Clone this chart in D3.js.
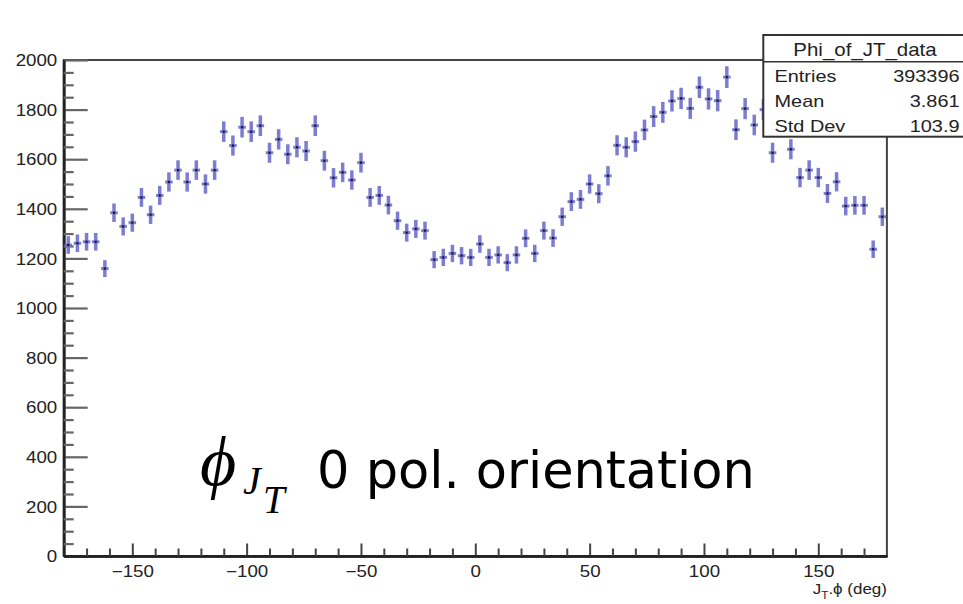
<!DOCTYPE html>
<html>
<head>
<meta charset="utf-8">
<script src="https://cdn.jsdelivr.net/npm/d3@7"></script>
<style>
  html,body{margin:0;padding:0;background:#fff;}
  svg{display:block;}
</style>
</head>
<body>
<svg id="chart" width="963" height="604"></svg>
<script>
// ---- data ----
const binLow = -180, binHigh = 180, binWidth = 4;
const counts = [
  1254, 1261, 1267, 1267, 1159, 1384, 1329, 1344, 1446, 1376,
  1454, 1508, 1556, 1508, 1556, 1500, 1556, 1711, 1655, 1729,
  1711, 1735, 1626, 1680, 1620, 1648, 1633, 1735, 1594, 1525,
  1547, 1516, 1586, 1446, 1454, 1415, 1352, 1304, 1319, 1312,
  1195, 1204, 1220, 1211, 1204, 1258, 1204, 1214, 1183, 1214,
  1281, 1220, 1312, 1282, 1368, 1429, 1438, 1500, 1461, 1533,
  1656, 1648, 1671, 1718, 1772, 1789, 1835, 1845, 1805, 1890,
  1843, 1836, 1931, 1719, 1804, 1738, 1800, 1626, 1730, 1640,
  1526, 1556, 1526, 1462, 1509, 1411, 1414, 1414, 1237, 1368
];
const yMajorTicks = [0, 200, 400, 600, 800, 1000, 1200, 1400, 1600, 1800, 2000];
const xMajorTicks = [-150, -100, -50, 0, 50, 100, 150];
const statsTitle = "Phi_of_JT_data";
const statsLabels = ["Entries", "Mean", "Std Dev"];
const statsValues = ["393396", "3.861", "103.9"];

// ---- layout ----
const svg = d3.select("#chart");
const L = 63.7, R = 886.9, T = 60, B = 556;
const SX = 1.17; // horizontal stretch of the original text
const x = d3.scaleLinear().domain([binLow, binHigh]).range([L, R]);
const y = d3.scaleLinear().domain([0, 2000]).range([B, T]);

const yMinor = d3.range(0, 2001, 50).filter(v => v % 200 !== 0);
const xMinor = d3.range(-170, 180, 10).filter(v => v % 50 !== 0);

// frame
svg.append("rect").attr("x", L).attr("y", T).attr("width", R - L).attr("height", B - T)
  .attr("fill", "none").attr("stroke", "#444").attr("stroke-width", 2);

// y axis
const gy = svg.append("g").attr("transform", `translate(${L},0)`);
gy.call(d3.axisLeft(y).tickValues(yMajorTicks).tickSize(-24).tickSizeOuter(0).tickFormat(d3.format("d")));
gy.append("g").call(d3.axisLeft(y).tickValues(yMinor).tickSize(-10).tickSizeOuter(0).tickFormat(""));
gy.selectAll(".domain").attr("stroke", "#222").attr("stroke-width", 2.5);
gy.selectAll(".tick line").attr("stroke", "#666").attr("stroke-width", 2.2);
gy.selectAll(".tick text")
  .attr("x", -5.5).attr("dy", "0.36em")
  .attr("transform", `scale(${SX},1)`)
  .attr("fill", "#222")
  .style("font-family", "'Liberation Sans', Arial, sans-serif").style("font-size", "16px");

// x axis
const gx = svg.append("g").attr("transform", `translate(0,${B})`);
gx.call(d3.axisBottom(x).tickValues(xMajorTicks).tickSize(-12.5).tickSizeOuter(0).tickFormat(d3.format("d")));
gx.append("g").call(d3.axisBottom(x).tickValues(xMinor).tickSize(-7.5).tickSizeOuter(0).tickFormat(""));
gx.selectAll(".domain").attr("stroke", "#222").attr("stroke-width", 2.5);
gx.selectAll(".tick line").attr("stroke", "#444").attr("stroke-width", 2);
gx.selectAll(".tick text")
  .attr("y", 21).attr("dy", 0)
  .attr("transform", `scale(${SX},1)`)
  .attr("fill", "#222")
  .style("font-family", "'Liberation Sans', Arial, sans-serif").style("font-size", "16px");

// x axis title
const xt = svg.append("text")
  .attr("transform", `translate(${R},594) scale(${SX},1)`)
  .attr("text-anchor", "end").attr("fill", "#222")
  .style("font-family", "'Liberation Sans', Arial, sans-serif").style("font-size", "14.5px");
xt.append("tspan").text("J");
xt.append("tspan").attr("dy", 5).style("font-size", "10px").text("T");
xt.append("tspan").attr("dy", -5).text(".ϕ (deg)");

// ---- histogram error bars ----
const bins = counts.map((c, i) => ({ c: binLow + binWidth * (i + 0.5), v: c, e: Math.sqrt(c) }));
const gData = svg.append("g");
const col = "#6a6ac9";
gData.selectAll("line.v").data(bins).join("line").attr("class", "v")
  .attr("x1", d => x(d.c)).attr("x2", d => x(d.c))
  .attr("y1", d => y(d.v - d.e)).attr("y2", d => y(d.v + d.e))
  .attr("stroke", col).attr("stroke-width", 3.5).attr("stroke-opacity", 0.88);
gData.selectAll("line.h").data(bins).join("line").attr("class", "h")
  .attr("x1", d => x(d.c - binWidth / 2) + 0.8).attr("x2", d => x(d.c + binWidth / 2) - 0.8)
  .attr("y1", d => y(d.v)).attr("y2", d => y(d.v))
  .attr("stroke", col).attr("stroke-width", 3).attr("stroke-opacity", 0.88);
gData.selectAll("rect.m").data(bins).join("rect").attr("class", "m")
  .attr("x", d => x(d.c) - 1).attr("y", d => y(d.v) - 1)
  .attr("width", 2).attr("height", 2).attr("fill", "#111");

// ---- stats box ----
const sb = svg.append("g");
sb.append("rect").attr("x", 763.3).attr("y", 35).attr("width", 230).attr("height", 101.7)
  .attr("fill", "#fff").attr("stroke", "#333").attr("stroke-width", 2);
sb.append("line").attr("x1", 763.3).attr("x2", 993).attr("y1", 61.7).attr("y2", 61.7)
  .attr("stroke", "#333").attr("stroke-width", 1.6);
const fontS = "'Liberation Sans', Arial, sans-serif";
sb.append("text").attr("transform", `translate(865,56) scale(${SX},1)`).attr("text-anchor", "middle")
  .attr("fill", "#222").style("font-family", fontS).style("font-size", "17.5px").text(statsTitle);
const rowBase = [81.7, 107, 131.5];
statsLabels.forEach((lab, i) => {
  sb.append("text").attr("transform", `translate(774.5,${rowBase[i]}) scale(${SX},1)`)
    .attr("fill", "#222").style("font-family", fontS).style("font-size", "17px").text(lab);
  sb.append("text").attr("transform", `translate(959.5,${rowBase[i]}) scale(${SX},1)`)
    .attr("text-anchor", "end")
    .attr("fill", "#222").style("font-family", fontS).style("font-size", "17px").text(statsValues[i]);
});

// ---- overlay label ----
const serif = "'Liberation Serif', 'Times New Roman', serif";
const lab = svg.append("text").attr("x", 200).attr("y", 485).style("font-family", serif)
  .style("font-style", "italic").attr("fill", "#000");
lab.append("tspan").style("font-size", "70px").text("ϕ");
lab.append("tspan").attr("x", 243).attr("y", 494).style("font-size", "40px").text("J");
lab.append("tspan").attr("x", 263).attr("y", 513).style("font-size", "39px").text("T");
svg.append("text").attr("x", 317).attr("y", 488)
  .style("font-family", "'DejaVu Sans', Verdana, sans-serif").style("font-size", "51px")
  .attr("fill", "#000").text("0 pol. orientation");
</script>
</body>
</html>
